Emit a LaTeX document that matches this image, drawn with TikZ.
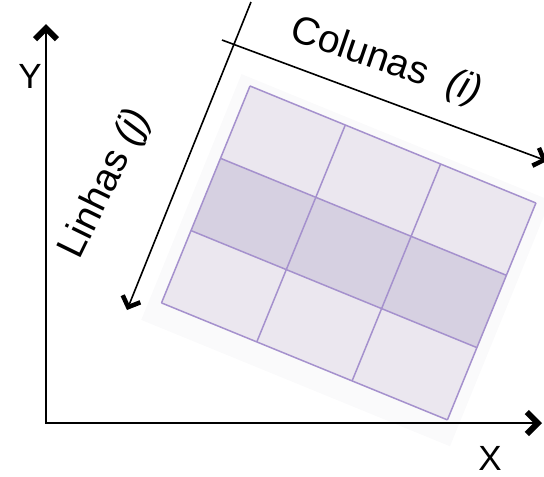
\documentclass[tikz,border=0pt]{standalone}
\usepackage{fontspec}
\setmainfont{Liberation Sans}
\usetikzlibrary{arrows.meta}
\definecolor{cellLight}{RGB}{235,231,239}
\definecolor{cellDark}{RGB}{214,208,225}
\definecolor{gridLine}{RGB}{165,145,205}
\definecolor{haloGray}{RGB}{250,250,251}
\tikzset{
  axis/.style={line width=2.2pt,
    {Straight Barb[length=11pt,width=22pt,line width=6pt]}-{Straight Barb[length=11pt,width=22pt,line width=6pt]}},
  dirarrow/.style={line width=1.6pt, -{Straight Barb[length=9pt,width=19pt,line width=4.5pt]}},
  gridline/.style={gridLine, line width=1.5pt},
  axlabel/.style={font=\fontsize{35}{35}\selectfont, inner sep=0pt},
  dirlabel/.style={font=\fontsize{39}{39}\selectfont, inner sep=0pt},
}

\begin{document}
\begin{tikzpicture}[x=1pt,y=-1pt]
  \useasboundingbox (0,0) rectangle (544,477);

  % the matrix of cells, tilted
  \begin{scope}[shift={(250,86)}, x={(95.3pt,-39pt)}, y={(-29.5pt,-72.3pt)}]
    \fill[haloGray] (-0.12,-0.1) -- (3.12,-0.1) -- (3.12,3.3) -- (-0.12,3.3) -- cycle;
    \fill[cellLight] (0,0) -- (3,0) -- (3,3) -- (0,3) -- cycle;
    \fill[cellDark] (0,1) -- (3,1) -- (3,2) -- (0,2) -- cycle;
    \foreach \k in {0,...,3} {
      \draw[gridline] (\k,0) -- (\k,3);
      \draw[gridline] (0,\k) -- (3,\k);
    }
  \end{scope}

  % axes
  \coordinate (O) at (46,423);
  \coordinate (Ytip) at (46,24);
  \coordinate (Xtip) at (542,423);
  \draw[axis] (Ytip) -- (O) -- (Xtip);
  \node[axlabel] (ylab) at (30,76) {Y};
  \node[axlabel] (xlab) at (490,458) {X};

  % directions i and j
  \coordinate (colA) at (222,40);
  \coordinate (colB) at (547,161);
  \coordinate (linA) at (251,2);
  \coordinate (linB) at (127,310);
  \draw[dirarrow] (colA) -- (colB);
  \draw[dirarrow] (linA) -- (linB);
  \node[dirlabel, rotate=-19] (colunas) at (386,62) {Colunas\ \ \textit{(i)}};
  \node[dirlabel, rotate=64] (linhas) at (106,184) {Linhas \textit{(j)}};
\end{tikzpicture}
\end{document}
